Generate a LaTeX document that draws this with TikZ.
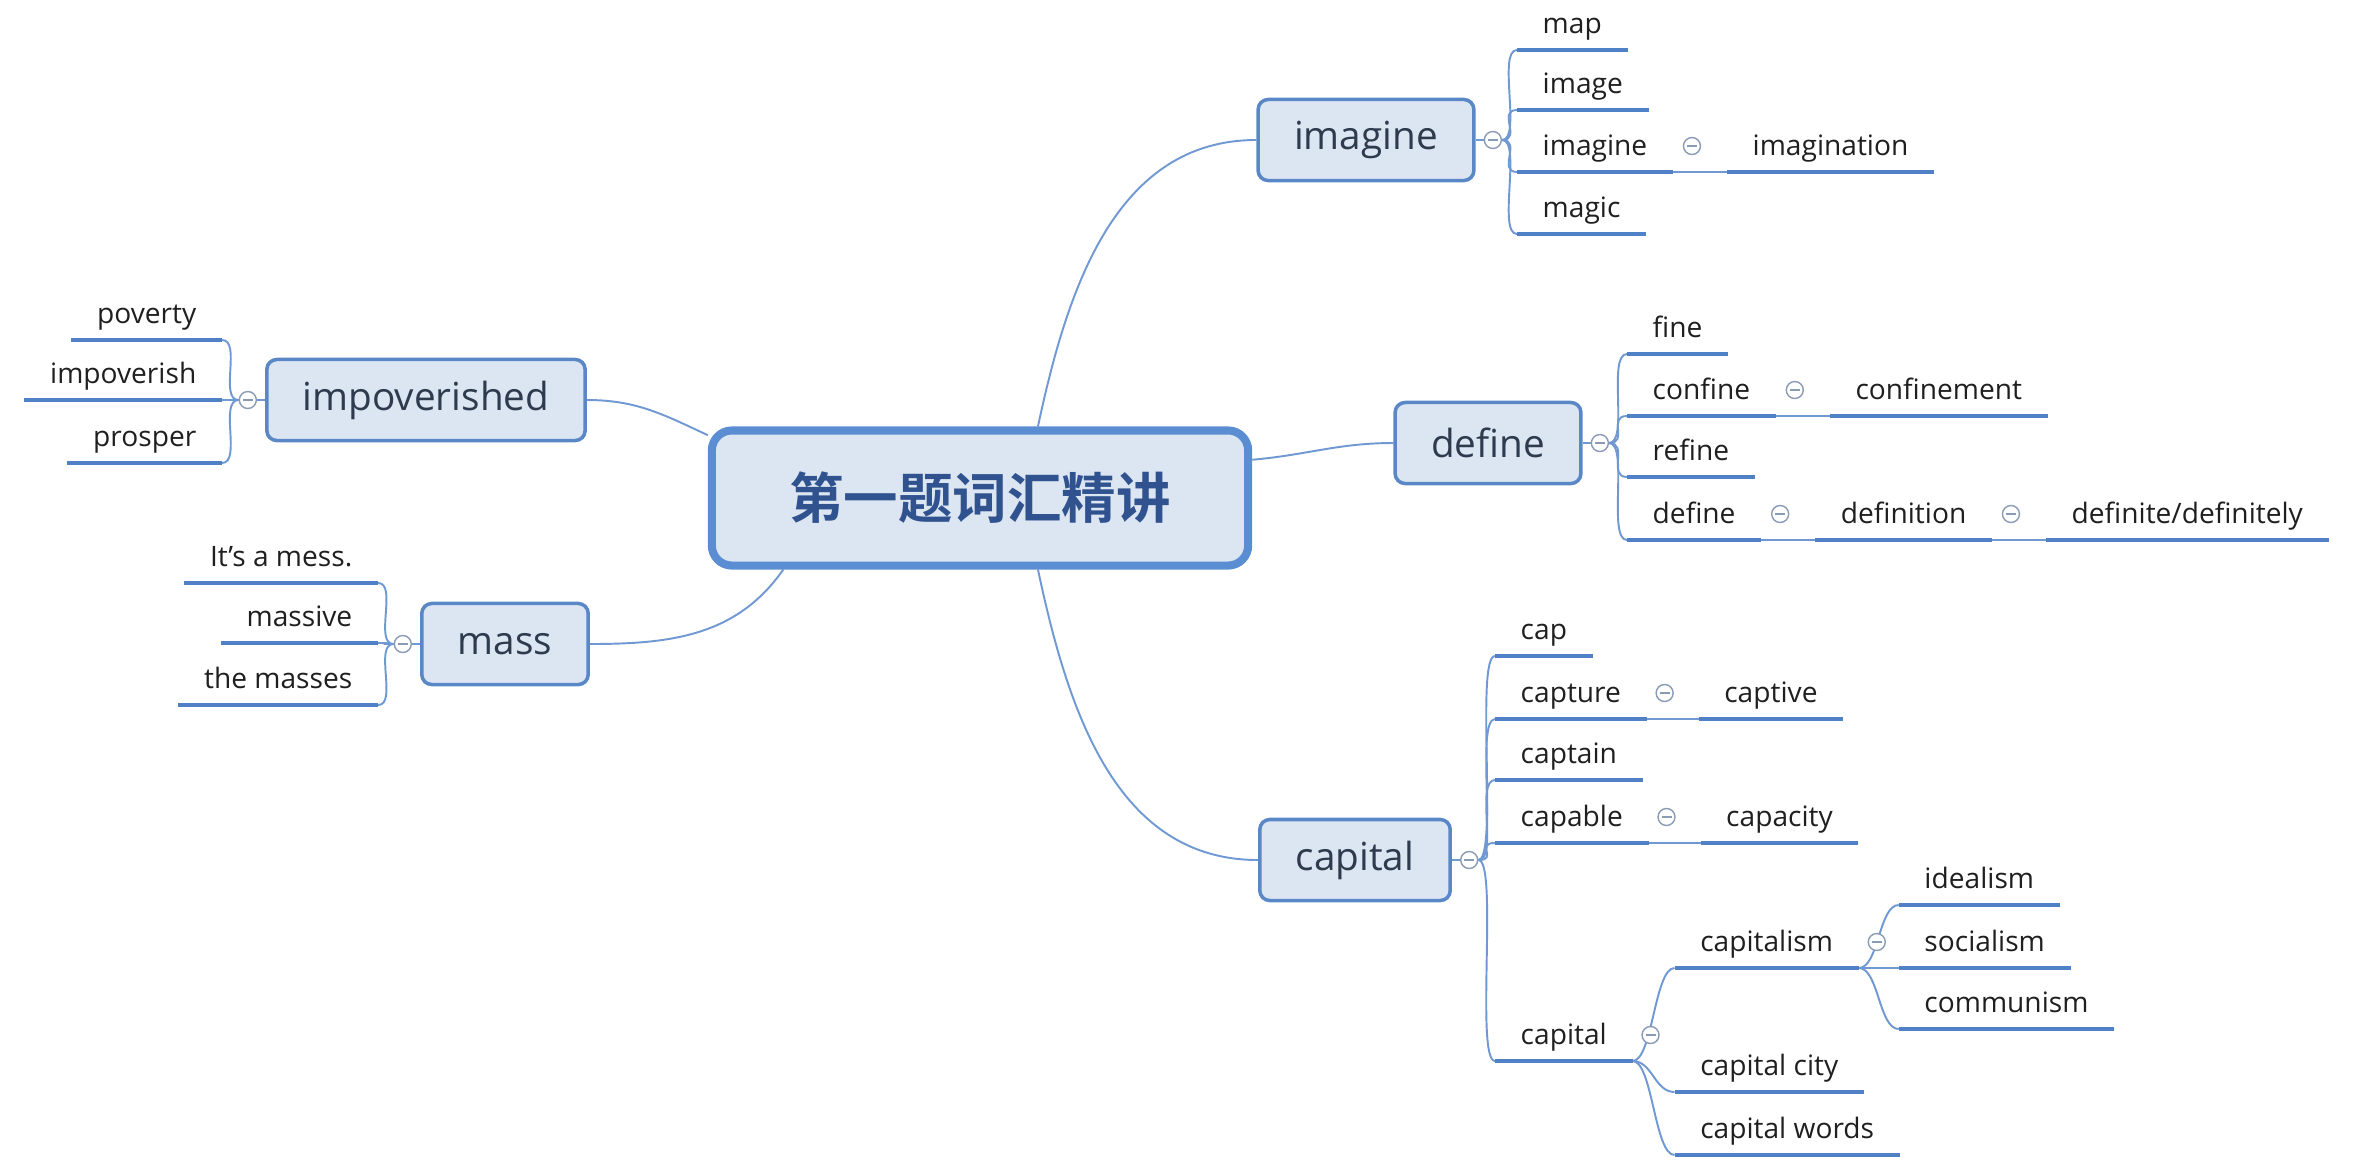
\documentclass[tikz,border=0pt]{standalone}
\usepackage{fontspec}
\setmainfont{Open Sans}
\newfontfamily\cjk{Noto Sans CJK SC}[BoldFont={Noto Sans CJK SC Bold}]
\usetikzlibrary{calc,positioning,backgrounds}
\definecolor{boxfill}{HTML}{DCE6F2}
\definecolor{boxline}{HTML}{5A87C5}
\definecolor{rootline}{HTML}{5B8DD3}
\definecolor{roottext}{HTML}{30538F}
\definecolor{boxtext}{HTML}{2E3B4E}
\definecolor{leaftext}{HTML}{1F1F1F}
\definecolor{ulinecol}{HTML}{5080C6}
\definecolor{linkline}{HTML}{7099D3}
\definecolor{foldline}{HTML}{8A9BB5}
\tikzset{root/.style={draw=rootline, line width=2.3pt, fill=boxfill, rounded corners=0.2cm, minimum width=5.36cm, minimum height=1.35cm, text=roottext, font=\fontsize{15.5}{18}\selectfont},
topic/.style={draw=boxline, line width=1pt, fill=boxfill, rounded corners=0.1cm, minimum height=0.81cm, inner xsep=0.36cm, text=boxtext, font=\fontsize{11}{13}\selectfont},
leaf/.style={inner xsep=0.25cm, inner ysep=0.1cm, text height=0.2cm, text depth=0.06cm, text=leaftext, font=\fontsize{8}{10}\selectfont},
rleaf/.style={leaf, anchor=south west},
lleaf/.style={leaf, anchor=south east},
fold/.style={circle, draw=foldline, fill=white, line width=0.4pt, minimum size=0.17cm, inner sep=0pt, path picture={\draw[foldline, line width=0.4pt] (-0.05cm,0) -- (0.05cm,0);}},
branch/.style={draw=linkline, line width=0.55pt},
uline/.style={draw=ulinecol, line width=1.4pt},
rfan/.style={out=0, in=180, distance=0.2cm},
lfan/.style={out=180, in=0, distance=0.2cm}}
\begin{document}
\begin{tikzpicture}[x=0.01cm,y=-0.01cm]
\useasboundingbox (0,0) rectangle (2366,1163);
\node[root] (root) at (980,498) {\cjk\bfseries 第一题词汇精讲};
\node[topic] (imag) at (1366,140) {imagine};
\node[topic] (defn) at (1488,443) {define};
\node[topic] (capt) at (1355,860) {capital};
\node[topic] (impov) at (426,400) {impoverished};
\node[topic] (mass) at (505,644) {mass};
\node[fold, right=0.08cm of imag] (fimag) {};
\node[fold, right=0.08cm of defn] (fdefn) {};
\node[fold, right=0.08cm of capt] (fcapt) {};
\node[fold, left=0.08cm of impov] (fimpov) {};
\node[fold, left=0.08cm of mass] (fmass) {};

\node[rleaf] (map) at (1517,50) {map};
\node[rleaf] (image) at (1517,110) {image};
\node[rleaf] (imagine2) at (1517,172) {imagine};
\node[rleaf] (magic) at (1517,234) {magic};
\node[rleaf] (imagination) at ($(imagine2.south east)+(54,0)$) {imagination};
\node[fold] (fimagine2) at ($(imagine2.south east)+(19,-26)$) {};

\node[rleaf] (fine) at (1627,354) {fine};
\node[rleaf] (confine) at (1627,416) {confine};
\node[rleaf] (refine) at (1627,477) {refine};
\node[rleaf] (define2) at (1627,540) {define};
\node[rleaf] (confinement) at ($(confine.south east)+(54,0)$) {confinement};
\node[fold] (fconfine) at ($(confine.south east)+(19,-26)$) {};
\node[rleaf] (definition) at ($(define2.south east)+(54,0)$) {definition};
\node[fold] (fdefine2) at ($(define2.south east)+(19,-26)$) {};
\node[rleaf] (definite) at ($(definition.south east)+(54,0)$) {definite/definitely};
\node[fold] (fdefinition) at ($(definition.south east)+(19,-26)$) {};

\node[rleaf] (cap) at (1495,656) {cap};
\node[rleaf] (capture) at (1495,719) {capture};
\node[rleaf] (captain) at (1495,780) {captain};
\node[rleaf] (capable) at (1495,843) {capable};
\node[rleaf] (capital2) at (1495,1061) {capital};
\node[rleaf] (captive) at ($(capture.south east)+(52,0)$) {captive};
\node[fold] (fcapture) at ($(capture.south east)+(18,-26)$) {};
\node[rleaf] (capacity) at ($(capable.south east)+(52,0)$) {capacity};
\node[fold] (fcapable) at ($(capable.south east)+(18,-26)$) {};
\node[rleaf] (capitalism) at ($(capital2.south east)+(42,-93)$) {capitalism};
\node[rleaf] (city) at ($(capital2.south east)+(42,31)$) {capital city};
\node[rleaf] (words) at ($(capital2.south east)+(42,94)$) {capital words};
\node[fold] (fcapital2) at ($(capital2.south east)+(18,-26)$) {};
\node[rleaf] (idealism) at ($(capitalism.south east)+(40,-63)$) {idealism};
\node[rleaf] (socialism) at ($(capitalism.south east)+(40,0)$) {socialism};
\node[rleaf] (communism) at ($(capitalism.south east)+(40,61)$) {communism};
\node[fold] (fcapitalism) at ($(capitalism.south east)+(18,-26)$) {};

\node[lleaf] (poverty) at (222,340) {poverty};
\node[lleaf] (impoverish) at (222,400) {impoverish};
\node[lleaf] (prosper) at (222,463) {prosper};
\node[lleaf] (mess) at (378,583) {It's a mess.};
\node[lleaf] (massive) at (378,643) {massive};
\node[lleaf] (masses) at (378,705) {the masses};

\begin{scope}[on background layer]
\draw[branch] (root.51) to[out=78,in=180] (imag.west);
\draw[branch] (root.8) to[out=5,in=180] (defn.west);
\draw[branch] (root.-51) to[out=-78,in=180] (capt.west);
\draw[branch] (root.167) to[out=155,in=0] (impov.east);
\draw[branch] (root.200) to[out=235,in=0] (mass.east);
\draw[branch] (imag.east) -- (fimag.west);
\draw[branch] (defn.east) -- (fdefn.west);
\draw[branch] (capt.east) -- (fcapt.west);
\draw[branch] (impov.west) -- (fimpov.east);
\draw[branch] (mass.west) -- (fmass.east);
\foreach \n in {map,image,imagine2,magic}
  \draw[branch] (fimag.east) to[rfan] (\n.south west);
\foreach \n in {fine,confine,refine,define2}
  \draw[branch] (fdefn.east) to[rfan] (\n.south west);
\foreach \n in {cap,capture,captain,capable,capital2}
  \draw[branch] (fcapt.east) to[rfan] (\n.south west);
\foreach \n in {capitalism,city,words}
  \draw[branch] (capital2.south east) to[rfan] (\n.south west);
\foreach \n in {idealism,socialism,communism}
  \draw[branch] (capitalism.south east) to[rfan] (\n.south west);
\foreach \n in {poverty,impoverish,prosper}
  \draw[branch] (fimpov.west) to[lfan] (\n.south east);
\foreach \n in {mess,massive,masses}
  \draw[branch] (fmass.west) to[lfan] (\n.south east);
\draw[branch] (imagine2.south east) -- (imagination.south west);
\draw[branch] (confine.south east) -- (confinement.south west);
\draw[branch] (define2.south east) -- (definition.south west);
\draw[branch] (definition.south east) -- (definite.south west);
\draw[branch] (capture.south east) -- (captive.south west);
\draw[branch] (capable.south east) -- (capacity.south west);
\end{scope}

\foreach \n in {map,image,imagine2,magic,imagination,fine,confine,refine,define2,confinement,definition,definite,cap,capture,captain,capable,capital2,captive,capacity,capitalism,city,words,idealism,socialism,communism,poverty,impoverish,prosper,mess,massive,masses}
  \draw[uline] (\n.south west) -- (\n.south east);
\end{tikzpicture}
\end{document}
